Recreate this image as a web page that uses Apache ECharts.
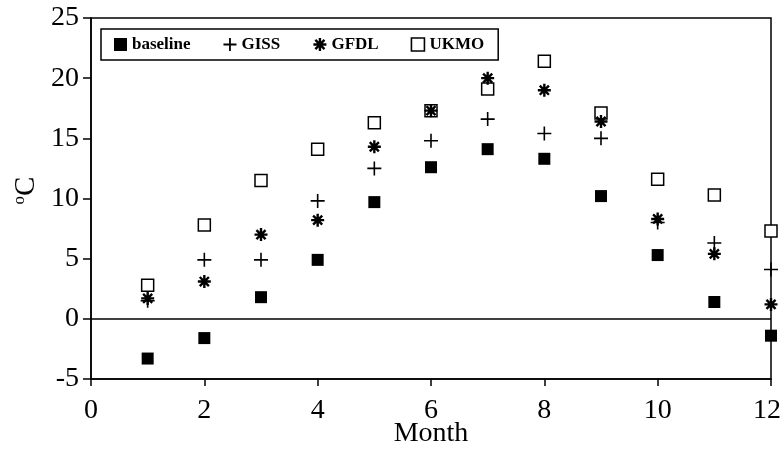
<!DOCTYPE html>
<html>
<head>
<meta charset="utf-8">
<script src="https://cdn.jsdelivr.net/npm/echarts@6/dist/echarts.min.js"></script>
<style>
html,body{margin:0;padding:0;background:#fff;}
#c{width:783px;height:451px;}
</style>
</head>
<body>
<div id="c"></div>
<script>
const months = [1,2,3,4,5,6,7,8,9,10,11,12];
const baseline = [-3.3, -1.6, 1.8, 4.9, 9.7, 12.6, 14.1, 13.3, 10.2, 5.3, 1.4, -1.4];
const giss     = [1.5, 4.9, 4.9, 9.8, 12.5, 14.8, 16.6, 15.4, 15.0, 8.0, 6.3, 4.1];
const gfdl     = [1.7, 3.1, 7.0, 8.2, 14.3, 17.3, 20.0, 19.0, 16.4, 8.3, 5.4, 1.2];
const ukmo     = [2.8, 7.8, 11.5, 14.1, 16.3, 17.3, 19.1, 21.4, 17.1, 11.6, 10.3, 7.3];
const seriesNames = ['baseline','GISS','GFDL','UKMO'];
const xTicks = [0,2,4,6,8,10,12];
const yTicks = [-5,0,5,10,15,20,25];

const pair = arr => months.map((m,i)=>[m, arr[i]]);
const FONT = 'Liberation Serif';
const plusPath = 'path://M0,7 L14,7 M7,0 L7,14';
const starPath = 'path://M6,0 L6,12 M0,6 L12,6 M1.8,1.8 L10.2,10.2 M10.2,1.8 L1.8,10.2';

const chart = echarts.init(document.getElementById('c'), null, {renderer:'canvas'});
chart.setOption({
  animation:false,
  backgroundColor:'#fff',
  grid:{left:91,right:12,top:18,bottom:72,containLabel:false,outerBoundsMode:'none',
    show:true,borderColor:'#000',borderWidth:1.5,backgroundColor:'transparent'},
  legend:{
    left:101, top:29,
    orient:'horizontal',
    borderColor:'#000', borderWidth:1.5,
    padding:[7,14,7,13],
    itemGap:32,
    itemWidth:13, itemHeight:13,
    textStyle:{fontFamily:FONT,fontSize:17,fontWeight:'bold',color:'#000'},
    data:[
      {name:seriesNames[0]},
      {name:seriesNames[1], itemStyle:{borderWidth:1.8}},
      {name:seriesNames[2], itemStyle:{borderWidth:2.4}},
      {name:seriesNames[3], itemStyle:{borderWidth:1.6}}
    ]
  },
  xAxis:{
    type:'value', min:0, max:12, interval:2,
    name:'Month', nameLocation:'middle', nameGap:41, nameMoveOverlap:false,
    nameTextStyle:{fontFamily:FONT,fontSize:28,color:'#000'},
    axisLine:{show:true,onZero:false,lineStyle:{color:'#000',width:1.5}},
    axisTick:{show:true,inside:false,length:7,lineStyle:{color:'#000',width:1.5}},
    axisLabel:{fontFamily:FONT,fontSize:28,color:'#000',margin:18,
      formatter:v=>{
        if(!xTicks.includes(v)) return '';
        return v===12 ? '{r|'+v+'}' : String(v);
      },
      rich:{r:{fontFamily:FONT,fontSize:28,color:'#000',padding:[0,8,0,0]}}
    },
    splitLine:{show:false}
  },
  yAxis:{
    type:'value', min:-5, max:25, interval:5,
    name:'{o|o}{c|C}', nameLocation:'middle', nameGap:50, nameRotate:90, nameMoveOverlap:false,
    nameTextStyle:{fontFamily:FONT,color:'#000',padding:[0,0,0,16],
      rich:{o:{fontFamily:FONT,fontSize:17,color:'#000',verticalAlign:'top',lineHeight:30},
            c:{fontFamily:FONT,fontSize:29,color:'#000',lineHeight:30}}},
    axisLine:{show:true,lineStyle:{color:'#000',width:1.5}},
    axisTick:{show:true,inside:false,length:8,lineStyle:{color:'#000',width:1.5}},
    axisLabel:{fontFamily:FONT,fontSize:28,color:'#000',margin:12,
      formatter:v=>yTicks.includes(v)?String(v):''},
    splitLine:{show:false}
  },
  series:[
    {name:seriesNames[0],type:'scatter',clip:false,data:pair(baseline),symbol:'rect',symbolSize:12,
      itemStyle:{color:'#000',opacity:1},
      markLine:{silent:true,symbol:['none','none'],label:{show:false},
        lineStyle:{color:'#000',width:1.5,type:'solid'},data:[{yAxis:0}]}},
    {name:seriesNames[1],type:'scatter',clip:false,data:pair(giss),symbol:plusPath,symbolSize:14,
      itemStyle:{color:'#000',borderColor:'#000',borderWidth:1.6,opacity:1}},
    {name:seriesNames[3],type:'scatter',clip:false,data:pair(ukmo),symbol:'rect',symbolSize:12,
      itemStyle:{color:'#fff',borderColor:'#000',borderWidth:1.5,opacity:1}},
    {name:seriesNames[2],type:'scatter',clip:false,data:pair(gfdl),symbol:starPath,symbolSize:13,
      itemStyle:{color:'#000',borderColor:'#000',borderWidth:2.4,opacity:1}}
  ]
});
</script>
</body>
</html>
